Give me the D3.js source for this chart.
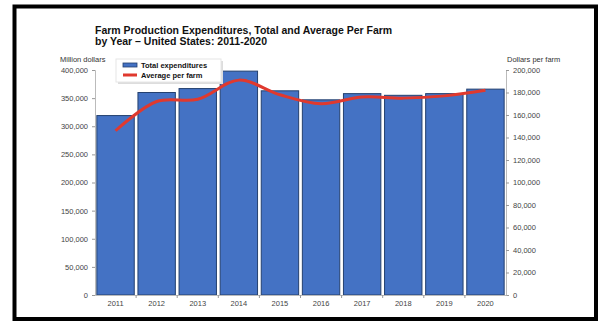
<!DOCTYPE html>
<html>
<head>
<meta charset="utf-8">
<script src="https://cdn.jsdelivr.net/npm/d3@7"></script>
<style>
  body { margin: 0; background: #fff; }
  text { font-family: "Liberation Sans", Arial, sans-serif; }
</style>
</head>
<body>
<div id="chart"></div>
<script>
// data
const years = ["2011", "2012", "2013", "2014", "2015", "2016", "2017", "2018", "2019", "2020"];
const totalExpenditures = [319000, 360000, 367000, 398000, 363000, 347000, 358000, 355000, 358000, 366000]; // million dollars
const averagePerFarm = [146000, 172000, 174000, 191000, 178000, 170000, 176000, 175000, 177000, 182000]; // dollars per farm
const leftTicks = [0, 50000, 100000, 150000, 200000, 250000, 300000, 350000, 400000];
const rightTicks = [0, 20000, 40000, 60000, 80000, 100000, 120000, 140000, 160000, 180000, 200000];

const W = 598, H = 322;
const margin = {top: 70, right: 92, bottom: 27, left: 95};
const width = W - margin.left - margin.right;
const height = H - margin.top - margin.bottom;

const svg = d3.select("#chart").append("svg")
    .attr("width", W)
    .attr("height", H);

// frame
svg.append("rect")
    .attr("x", 14.5).attr("y", 6.5)
    .attr("width", 581.5).attr("height", 312.5)
    .attr("fill", "none")
    .attr("stroke", "#000")
    .attr("stroke-width", 4);

// title
const title = svg.append("text")
    .attr("x", margin.left)
    .attr("y", 34)
    .style("font-size", "10.5px")
    .style("font-weight", "bold")
    .style("fill", "#111");
title.append("tspan").attr("x", margin.left).text("Farm Production Expenditures, Total and Average Per Farm");
title.append("tspan").attr("x", margin.left).attr("dy", 10.5).text("by Year \u2013 United States: 2011-2020");

const g = svg.append("g")
    .attr("transform", "translate(" + margin.left + "," + margin.top + ")");

const x = d3.scaleBand()
    .domain(years)
    .range([0, width])
    .paddingInner(0.09)
    .paddingOuter(0.045);

const yLeft = d3.scaleLinear().domain([0, 400000]).range([height, 0]);
const yRight = d3.scaleLinear().domain([0, 200000]).range([height, 0]);

// bars
g.selectAll(".bar")
    .data(years)
    .enter()
    .append("rect")
    .attr("class", "bar")
    .attr("x", d => x(d))
    .attr("y", (d, i) => yLeft(totalExpenditures[i]))
    .attr("width", x.bandwidth())
    .attr("height", (d, i) => height - yLeft(totalExpenditures[i]))
    .attr("fill", "#4472c4")
    .attr("stroke", "#24406f")
    .attr("stroke-width", 1);

// axes
const fmt = d3.format(",");

g.append("g")
    .attr("class", "y-left")
    .call(d3.axisLeft(yLeft).tickValues(leftTicks).tickFormat(fmt).tickSize(3).tickPadding(4))
    .call(a => a.select(".domain").attr("stroke", "#bbb"))
    .call(a => a.selectAll(".tick line").attr("stroke", "#999"))
    .call(a => a.selectAll("text").style("font-size", "7.5px").style("fill", "#444"));

g.append("g")
    .attr("class", "y-right")
    .attr("transform", "translate(" + width + ",0)")
    .call(d3.axisRight(yRight).tickValues(rightTicks).tickFormat(fmt).tickSize(3).tickPadding(4))
    .call(a => a.select(".domain").attr("stroke", "#bbb"))
    .call(a => a.selectAll(".tick line").attr("stroke", "#999"))
    .call(a => a.selectAll("text").style("font-size", "7.5px").style("fill", "#444"));

g.append("g")
    .attr("class", "x-axis")
    .attr("transform", "translate(0," + height + ")")
    .call(d3.axisBottom(x).tickSize(0).tickPadding(6))
    .call(a => a.select(".domain").attr("stroke", "#bbb"))
    .call(a => a.selectAll("text").style("font-size", "7.5px").style("fill", "#444"));

// category separator ticks
g.append("g")
    .selectAll("line")
    .data(years.slice(1))
    .enter()
    .append("line")
    .attr("x1", d => x(d) - x.step() * x.paddingInner() / 2)
    .attr("x2", d => x(d) - x.step() * x.paddingInner() / 2)
    .attr("y1", height)
    .attr("y2", height + 3)
    .attr("stroke", "#999");

// axis titles
svg.append("text")
    .attr("x", 60).attr("y", 62)
    .style("font-size", "7.5px")
    .style("fill", "#333")
    .text("Million dollars");

svg.append("text")
    .attr("x", 507).attr("y", 62)
    .style("font-size", "7.5px")
    .style("fill", "#333")
    .text("Dollars per farm");

// average line
const line = d3.line()
    .x((d, i) => x(years[i]) + x.bandwidth() / 2)
    .y(d => yRight(d))
    .curve(d3.curveCatmullRom.alpha(0.5));

g.append("path")
    .datum(averagePerFarm)
    .attr("fill", "none")
    .attr("stroke", "#e0392e")
    .attr("stroke-width", 3)
    .attr("d", line);

// legend
const legend = svg.append("g").attr("transform", "translate(116,59)");
legend.append("rect")
    .attr("x", 2).attr("y", 2)
    .attr("width", 105).attr("height", 23)
    .attr("fill", "#ddd");
legend.append("rect")
    .attr("width", 105).attr("height", 23)
    .attr("fill", "#fff")
    .attr("stroke", "#e6e6e6");
legend.append("rect")
    .attr("x", 7).attr("y", 4)
    .attr("width", 14).attr("height", 4)
    .attr("fill", "#4472c4")
    .attr("stroke", "#24406f")
    .attr("stroke-width", 0.8);
legend.append("line")
    .attr("x1", 7).attr("x2", 21)
    .attr("y1", 16).attr("y2", 16)
    .attr("stroke", "#e0392e")
    .attr("stroke-width", 3);
legend.append("text")
    .attr("x", 25).attr("y", 8.8)
    .style("font-size", "7.5px")
    .style("font-weight", "bold")
    .style("fill", "#111")
    .text("Total expenditures");
legend.append("text")
    .attr("x", 25).attr("y", 18.8)
    .style("font-size", "7.5px")
    .style("font-weight", "bold")
    .style("fill", "#111")
    .text("Average per farm");
</script>
</body>
</html>
